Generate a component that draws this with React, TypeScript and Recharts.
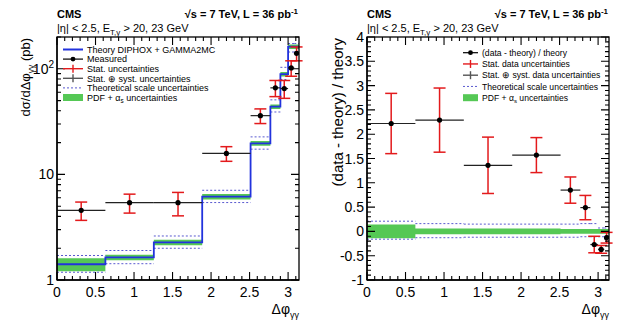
import React from 'react';
import { ComposedChart, Line, Area, Scatter, XAxis, YAxis, ErrorBar } from 'recharts';

// Δφγγ binning (radians) and per-bin values
const BIN_EDGES = [0, 0.628, 1.257, 1.885, 2.513, 2.77, 2.9, 3.0, 3.08, Math.PI];
const POINT_X = [0.314, 0.942, 1.571, 2.199, 2.64, 2.835, 2.95, 3.04, 3.11];
const MEASURED = [4.57, 5.4, 5.4, 15.8, 36, 66, 65, 102, 140];
const MEASURED_STAT = [0.9, 1.1, 1.35, 2.5, 5.7, 11.5, 12.5, 17, 21];
const THEORY = [1.41, 1.64, 2.27, 6.15, 19.7, 43.8, 89, 162, 162];
// relative theory uncertainties
const PDF_UNC = [0.14, 0.06, 0.06, 0.06, 0.05, 0.05, 0.05, 0.05, 0.05];
const SCALE_UP = [0.21, 0.16, 0.15, 0.15, 0.15, 0.16, 0.16, 0.07, 0.07];
const SCALE_DOWN = [0.16, 0.13, 0.12, 0.12, 0.12, 0.11, 0.11, 0.11, 0.11];
// (data - theory) / theory
const RATIO = [2.22, 2.29, 1.36, 1.57, 0.85, 0.49, -0.27, -0.37, -0.13];
const RATIO_STAT = [0.62, 0.66, 0.58, 0.36, 0.27, 0.25, 0.17, 0.08, 0.11];

// axis ticks
const X_MAJOR = [0, 0.5, 1, 1.5, 2, 2.5, 3];
const X_MINOR_STEP = 0.1;
const X_DOMAIN = [0, Math.PI];
const LOG_DECADES = [1, 10, 100];
const LOG_DOMAIN = [1, 200];
const RATIO_MAJOR = [-1, -0.5, 0, 0.5, 1, 1.5, 2, 2.5, 3, 3.5, 4];
const RATIO_MINOR_STEP = 0.1;
const RATIO_DOMAIN = [-1, 4];

const LEFT_LEGEND = [
  'Theory DIPHOX + GAMMA2MC',
  'Measured',
  'Stat. uncertainties',
  'Stat. \u2295 syst. uncertainties',
  'Theoretical scale uncertainties',
  'PDF + \u03b1s uncertainties',
];
const RIGHT_LEGEND = [
  '(data - theory) / theory',
  'Stat. data uncertainties',
  'Stat. \u2295 syst. data uncertainties',
  'Theoretical scale uncertainties',
  'PDF + \u03b1s uncertainties',
];

const FONT = '"Liberation Sans", Arial, Helvetica, sans-serif';
const BLUE = '#2233dd';
const RED = '#e31a1c';
const GREEN = '#55c855';
const DASH = '#5a5ad0';
const GRAY = '#555555';

const round = (v: number) => Math.round(v * 1000) / 1000;
const range = (lo: number, hi: number, step: number) => {
  const out: number[] = [];
  const n = Math.round((hi - lo) / step);
  for (let i = 0; i <= n; i++) out.push(round(lo + i * step));
  return out;
};
const X_TICKS = range(0, 3.1, X_MINOR_STEP);
const RATIO_TICKS = range(RATIO_MAJOR[0], RATIO_MAJOR[RATIO_MAJOR.length - 1], RATIO_MINOR_STEP);
const LOG_TICKS: number[] = [];
LOG_DECADES.forEach((d) => {
  for (let m = 1; m <= 9; m++) if (d * m <= LOG_DOMAIN[1]) LOG_TICKS.push(d * m);
});

const isIn = (arr: number[], v: number) => arr.some((a) => Math.abs(a - v) < 1e-6);

// step histogram rows: one row per edge, last edge repeats final bin
const stepRows = (vals: number[]) =>
  BIN_EDGES.map((e, i) => ({ x: e, y: vals[Math.min(i, vals.length - 1)] }));
const bandRows = (lo: number[], hi: number[]) =>
  BIN_EDGES.map((e, i) => {
    const k = Math.min(i, lo.length - 1);
    return { x: e, band: [lo[k], hi[k]] };
  });
// horizontal-only segments per bin
const segRows = (vals: number[]) =>
  vals.flatMap((v, i) => [
    { x: BIN_EDGES[i], y: v },
    { x: BIN_EDGES[i + 1], y: v },
    { x: BIN_EDGES[i + 1], y: null },
  ]);
const pointRows = (ys: number[], errs: number[]) =>
  POINT_X.map((x, i) => ({
    x,
    y: ys[i],
    yErr: errs[i],
    xErr: [x - BIN_EDGES[i], BIN_EDGES[i + 1] - x],
  }));

const theoryLine = stepRows(THEORY);
const theoryBand = bandRows(
  THEORY.map((t, i) => t * (1 - PDF_UNC[i])),
  THEORY.map((t, i) => t * (1 + PDF_UNC[i]))
);
const theoryScaleUp = segRows(THEORY.map((t, i) => t * (1 + SCALE_UP[i])));
const theoryScaleDown = segRows(THEORY.map((t, i) => t * (1 - SCALE_DOWN[i])));
const measuredPts = pointRows(MEASURED, MEASURED_STAT);

const ratioBand = bandRows(PDF_UNC.map((u) => -u), PDF_UNC);
const ratioScaleUp = segRows(SCALE_UP);
const ratioScaleDown = segRows(SCALE_DOWN.map((u) => -u));
const ratioPts = pointRows(RATIO, RATIO_STAT);

const fmt = (v: number) => String(round(v));

// panel layout
const W = 310;
const H = 321;
const MARGIN = { top: 37, right: 11, bottom: 0, left: 0 };
const Y_AXIS_W = 57;
const X_AXIS_H = 41;
const BOX = {
  left: MARGIN.left + Y_AXIS_W,
  right: W - MARGIN.right,
  top: MARGIN.top,
  bottom: H - X_AXIS_H,
};

// axis tick labels
const xLabel = (props: any) => {
  const v = props.payload.value;
  if (!isIn(X_MAJOR, v)) return <g />;
  return (
    <text x={Number(props.x)} y={Number(props.y) + 17} textAnchor="middle" fontSize={14} fontFamily={FONT} fill="#000">
      {fmt(v)}
    </text>
  );
};

const yLabel = (majors: number[], label: (v: number) => React.ReactNode) => (props: any) => {
  const v = props.payload.value;
  if (!isIn(majors, v)) return <g />;
  return (
    <text x={Number(props.x) - 3} y={Number(props.y) + 5} textAnchor="end" fontSize={14} fontFamily={FONT} fill="#000">
      {label(v)}
    </text>
  );
};

const logLabel = (v: number) => {
  const exp = Math.round(Math.log10(v));
  if (exp <= 1) return fmt(v);
  return (
    <>
      {'10'}
      <tspan fontSize={10} dy={-6}>
        {exp}
      </tspan>
    </>
  );
};

const dotShape = (p: any) => <circle cx={p.cx} cy={p.cy} r={2.6} fill="#000" />;

const AXIS_LINE = { stroke: '#000', strokeWidth: 1.3 };

function Panel({ log }: { log: boolean }) {
  const yDom = log ? LOG_DOMAIN : RATIO_DOMAIN;
  return (
    <ComposedChart width={W} height={H} margin={MARGIN}>
      <XAxis xAxisId="b" dataKey="x" type="number" domain={X_DOMAIN} allowDataOverflow ticks={X_TICKS}
        interval={0} height={X_AXIS_H} tickSize={0} tickMargin={0} tickLine={false} axisLine={AXIS_LINE} tick={xLabel} />
      <YAxis yAxisId="l" scale={log ? 'log' : 'linear'} type="number" domain={yDom} allowDataOverflow
        ticks={log ? LOG_TICKS : RATIO_TICKS} interval={0} width={Y_AXIS_W} tickSize={0} tickMargin={0} tickLine={false}
        axisLine={AXIS_LINE} tick={log ? yLabel(LOG_DECADES, logLabel) : yLabel(RATIO_MAJOR, fmt)} />
      <Area xAxisId="b" yAxisId="l" data={log ? theoryBand : ratioBand} dataKey="band" type="stepAfter" stroke="none"
        fill={GREEN} fillOpacity={1} isAnimationActive={false} />
      <Line xAxisId="b" yAxisId="l" data={log ? theoryScaleUp : ratioScaleUp} dataKey="y" type="linear" stroke={DASH}
        strokeWidth={1} strokeDasharray="2 2" dot={false} connectNulls={false} isAnimationActive={false} />
      <Line xAxisId="b" yAxisId="l" data={log ? theoryScaleDown : ratioScaleDown} dataKey="y" type="linear" stroke={DASH}
        strokeWidth={1} strokeDasharray="2 2" dot={false} connectNulls={false} isAnimationActive={false} />
      {log && (
        <Line xAxisId="b" yAxisId="l" data={theoryLine} dataKey="y" type="stepAfter" stroke={BLUE} strokeWidth={1.8}
          dot={false} isAnimationActive={false} />
      )}
      <Scatter xAxisId="b" yAxisId="l" data={log ? measuredPts : ratioPts} dataKey="y" shape={dotShape}
        isAnimationActive={false}>
        <ErrorBar dataKey="xErr" direction="x" width={0} stroke="#222" strokeWidth={1.2} />
        <ErrorBar dataKey="yErr" direction="y" width={6} stroke={RED} strokeWidth={1.5} />
      </Scatter>
    </ComposedChart>
  );
}

// ROOT-style frame with inward ticks on all four sides of a panel box
function Frame({ dx, log }: { dx: number; log: boolean }) {
  const L = BOX.left + dx;
  const R = BOX.right + dx;
  const T = BOX.top;
  const B = BOX.bottom;
  const px = (v: number) => L + ((v - X_DOMAIN[0]) / (X_DOMAIN[1] - X_DOMAIN[0])) * (R - L);
  const py = log
    ? (v: number) => B - (Math.log10(v / LOG_DOMAIN[0]) / Math.log10(LOG_DOMAIN[1] / LOG_DOMAIN[0])) * (B - T)
    : (v: number) => B - ((v - RATIO_DOMAIN[0]) / (RATIO_DOMAIN[1] - RATIO_DOMAIN[0])) * (B - T);
  const yTicks = log ? LOG_TICKS : RATIO_TICKS;
  const yMajor = log ? LOG_DECADES : RATIO_MAJOR;
  const segs: string[] = [];
  X_TICKS.forEach((v) => {
    const len = isIn(X_MAJOR, v) ? 8 : 4;
    const x = px(v);
    segs.push(`M${x},${B}V${B - len}`, `M${x},${T}V${T + len}`);
  });
  yTicks.forEach((v) => {
    const len = isIn(yMajor, v) ? 8 : 4;
    const y = py(v);
    segs.push(`M${L},${y}H${L + len}`, `M${R},${y}H${R - len}`);
  });
  return (
    <g>
      <rect x={L} y={T} width={R - L} height={B - T} fill="none" stroke="#000" strokeWidth={1.3} />
      <path d={segs.join('')} stroke="#000" strokeWidth={1.1} fill="none" />
    </g>
  );
}

// legend glyphs
function Glyph({ kind, x0, x1, y }: { kind: number; x0: number; x1: number; y: number }) {
  const xm = (x0 + x1) / 2;
  switch (kind) {
    case 0:
      return <line x1={x0} x2={x1} y1={y} y2={y} stroke={BLUE} strokeWidth={2} />;
    case 1:
      return (
        <g>
          <line x1={x0} x2={x1} y1={y} y2={y} stroke="#000" strokeWidth={1.2} />
          <circle cx={xm} cy={y} r={2.4} fill="#000" />
        </g>
      );
    case 2:
    case 3: {
      const c = kind === 2 ? RED : GRAY;
      return (
        <g>
          <line x1={x0} x2={x1} y1={y} y2={y} stroke={c} strokeWidth={1.4} />
          <line x1={xm} x2={xm} y1={y - 4} y2={y + 4} stroke={c} strokeWidth={1.4} />
        </g>
      );
    }
    case 4:
      return <line x1={x0} x2={x1} y1={y} y2={y} stroke={DASH} strokeWidth={1} strokeDasharray="2 2" />;
    default:
      return <rect x={x0} y={y - 3.5} width={x1 - x0} height={7} fill={GREEN} />;
  }
}

function LegendText({ x, y, size, text }: { x: number; y: number; size: number; text: string }) {
  const idx = text.indexOf('\u03b1s');
  if (idx < 0) {
    return (
      <text x={x} y={y} fontSize={size} fontFamily={FONT} fill="#000">
        {text}
      </text>
    );
  }
  return (
    <text x={x} y={y} fontSize={size} fontFamily={FONT} fill="#000">
      {text.slice(0, idx + 1)}
      <tspan fontSize={size * 0.7} dy={2}>s</tspan>
      <tspan dy={-2}>{text.slice(idx + 2)}</tspan>
    </text>
  );
}

function Header({ x0, x1 }: { x0: number; x1: number }) {
  return (
    <g fontFamily={FONT} fill="#000">
      <text x={x0} y={18} fontSize={11} fontWeight="bold">CMS</text>
      <text x={x1} y={18} fontSize={11} fontWeight="bold" textAnchor="end">
        {'\u221as = 7 TeV, L = 36 pb'}
        <tspan fontSize={8} dy={-4}>-1</tspan>
      </text>
      <text x={x0} y={32} fontSize={11}>
        {'|\u03b7| < 2.5, E'}
        <tspan fontSize={8} dy={3}>{'T,\u03b3'}</tspan>
        <tspan dy={-3}>{' > 20, 23 GeV'}</tspan>
      </text>
    </g>
  );
}

function XTitle({ x }: { x: number }) {
  return (
    <text x={x} y={314} fontSize={14} fontFamily={FONT} textAnchor="end" fill="#000">
      {'\u0394\u03c6'}
      <tspan fontSize={9} dy={4}>{'\u03b3\u03b3'}</tspan>
    </text>
  );
}

function Overlay() {
  return (
    <svg width={621} height={321} style={{ position: 'absolute', left: 0, top: 0, pointerEvents: 'none' }}>
      <Frame dx={0} log />
      <Frame dx={W} log={false} />
      <Header x0={57} x1={298} />
      <Header x0={367} x1={608} />
      <XTitle x={299} />
      <XTitle x={609} />
      <text x={30} y={38} transform="rotate(-90 30 38)" fontSize={13} fontFamily={FONT} textAnchor="end" fill="#000">
        {'d\u03c3/d\u0394\u03c6'}
        <tspan fontSize={8.5} dy={4}>{'\u03b3\u03b3'}</tspan>
        <tspan dy={-4}>{' (pb)'}</tspan>
      </text>
      <text x={343} y={38} transform="rotate(-90 343 38)" fontSize={15} fontFamily={FONT} textAnchor="end" fill="#000">
        (data - theory) / theory
      </text>
      {LEFT_LEGEND.map((t, i) => {
        const y = 49.5 + i * 9.6;
        return (
          <g key={'l' + i}>
            <Glyph kind={i} x0={63} x1={83} y={y} />
            <LegendText x={87} y={y + 3.3} size={9} text={t} />
          </g>
        );
      })}
      {RIGHT_LEGEND.map((t, i) => {
        const y = 52.7 + i * 11.25;
        return (
          <g key={'r' + i}>
            <Glyph kind={i === 0 ? 1 : i + 1} x0={463} x1={478} y={y} />
            <LegendText x={482} y={y + 3.2} size={8.6} text={t} />
          </g>
        );
      })}
    </svg>
  );
}

export default function App() {
  return (
    <div style={{ position: 'absolute', left: 0, top: 0, width: 621, height: 321, background: '#fff', fontFamily: FONT }}>
      <div style={{ position: 'absolute', left: 0, top: 0 }}>
        <Panel log />
      </div>
      <div style={{ position: 'absolute', left: W, top: 0 }}>
        <Panel log={false} />
      </div>
      <Overlay />
    </div>
  );
}
